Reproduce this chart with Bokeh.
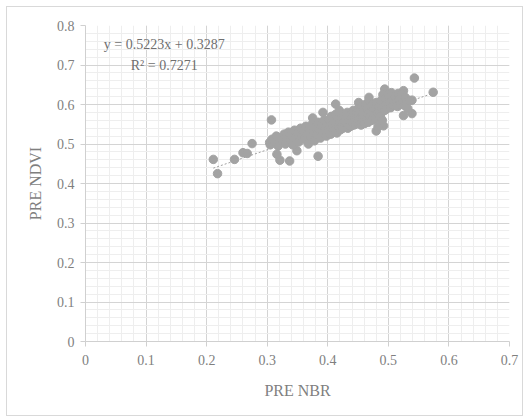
from bokeh.plotting import figure
from bokeh.models import Range1d, FixedTicker, Label, ColumnDataSource
from bokeh.embed import file_html
from bokeh.resources import INLINE

# Scatter data (PRE NBR vs PRE NDVI)
nbr = [
    0.211, 0.218, 0.246, 0.260, 0.267, 0.275, 0.307, 0.304, 0.316, 0.321, 0.337, 0.349,
    0.384, 0.375, 0.413, 0.392, 0.543, 0.574, 0.539, 0.525, 0.539, 0.525, 0.494, 0.480,
    0.492, 0.468, 0.451,
    0.305, 0.308, 0.312, 0.315, 0.318, 0.322, 0.325, 0.328, 0.330, 0.332, 0.335, 0.338,
    0.340, 0.342, 0.345, 0.347, 0.350, 0.352,
    0.355, 0.357, 0.360, 0.362, 0.364, 0.366, 0.368, 0.370, 0.372, 0.374, 0.376, 0.378,
    0.380, 0.382, 0.384, 0.386, 0.388, 0.390, 0.392, 0.394, 0.396, 0.398, 0.399,
    0.401, 0.402, 0.404, 0.405, 0.406, 0.408, 0.409, 0.410, 0.412, 0.413, 0.414, 0.415,
    0.416, 0.418, 0.419, 0.420, 0.421, 0.422, 0.424, 0.425, 0.426, 0.427, 0.428, 0.430,
    0.431, 0.432, 0.433, 0.434, 0.436, 0.437, 0.438, 0.440, 0.441, 0.442, 0.443, 0.444,
    0.445, 0.446, 0.447, 0.448, 0.449,
    0.450, 0.451, 0.452, 0.453, 0.454, 0.455, 0.456, 0.457, 0.458, 0.459, 0.460, 0.461,
    0.462, 0.463, 0.464, 0.465, 0.466, 0.467, 0.468, 0.469, 0.470, 0.471, 0.472, 0.473,
    0.474, 0.475, 0.476, 0.478, 0.479, 0.480, 0.482, 0.483, 0.484, 0.485, 0.487, 0.488,
    0.489, 0.490, 0.491, 0.492, 0.494, 0.495, 0.496, 0.498,
    0.500, 0.502, 0.504, 0.505, 0.507, 0.509, 0.511, 0.513, 0.515, 0.516, 0.518, 0.520,
    0.522, 0.524, 0.526, 0.528, 0.530, 0.532, 0.535,
]
ndvi = [
    0.461, 0.425, 0.461, 0.478, 0.476, 0.501, 0.561, 0.504, 0.474, 0.459, 0.457, 0.483,
    0.469, 0.566, 0.601, 0.580, 0.667, 0.631, 0.577, 0.572, 0.611, 0.635, 0.639, 0.533,
    0.546, 0.618, 0.605,
    0.498, 0.512, 0.505, 0.520, 0.495, 0.515, 0.508, 0.525, 0.500, 0.518, 0.530, 0.510,
    0.522, 0.498, 0.535, 0.515, 0.527, 0.505,
    0.540, 0.520, 0.532, 0.512, 0.545, 0.525, 0.500, 0.538, 0.518, 0.550, 0.530, 0.508,
    0.543, 0.525, 0.555, 0.535, 0.515, 0.548, 0.530, 0.560, 0.540, 0.520, 0.552,
    0.535, 0.562, 0.545, 0.525, 0.570, 0.550, 0.532, 0.558, 0.540, 0.575, 0.548, 0.528,
    0.562, 0.545, 0.585, 0.555, 0.536, 0.568, 0.550, 0.540, 0.575, 0.558, 0.545, 0.565,
    0.550, 0.580, 0.540, 0.560, 0.572, 0.552, 0.545, 0.568, 0.555, 0.585, 0.548, 0.575,
    0.560, 0.550, 0.578, 0.565, 0.555,
    0.590, 0.570, 0.558, 0.582, 0.565, 0.548, 0.595, 0.575, 0.560, 0.585, 0.570, 0.552,
    0.600, 0.580, 0.565, 0.590, 0.575, 0.555, 0.610, 0.585, 0.570, 0.595, 0.580, 0.560,
    0.600, 0.585, 0.572, 0.590, 0.565, 0.605, 0.578, 0.545, 0.595, 0.585, 0.570, 0.610,
    0.590, 0.560, 0.625, 0.600, 0.585, 0.615, 0.600, 0.590,
    0.625, 0.605, 0.592, 0.630, 0.612, 0.598, 0.620, 0.605, 0.595, 0.628, 0.612, 0.600,
    0.625, 0.608, 0.598, 0.618, 0.605, 0.590, 0.610,
]

# Trendline as printed on the chart
slope = 0.5223
intercept = 0.3287
equation_text = "y = 0.5223x + 0.3287"
r2_text = "R² = 0.7271"

x_ticks = [0, 0.1, 0.2, 0.3, 0.4, 0.5, 0.6, 0.7]
y_ticks = [0, 0.1, 0.2, 0.3, 0.4, 0.5, 0.6, 0.7, 0.8]

FONT = "Liberation Serif"
TXT = "#7f7f7f"

p = figure(width=517, height=410, output_backend="svg", toolbar_location=None,
           x_range=Range1d(0, 0.7), y_range=Range1d(0, 0.8),
           min_border_left=78, min_border_right=15, min_border_top=18, min_border_bottom=76)
p.margin = (6, 8, 3, 6)
p.styles = {"border": "1px solid #d9d9d9"}
p.outline_line_color = None
p.background_fill_color = "white"
p.border_fill_color = "white"

p.xaxis.ticker = FixedTicker(ticks=x_ticks, minor_ticks=[i / 50 for i in range(36)])
p.yaxis.ticker = FixedTicker(ticks=y_ticks, minor_ticks=[i / 50 for i in range(41)])

for ax in (p.xaxis[0], p.yaxis[0]):
    ax.axis_line_color = "#d0d0d0"
    ax.major_tick_line_color = "#d0d0d0"
    ax.major_tick_in = 0
    ax.major_tick_out = 5
    ax.minor_tick_line_color = None
    ax.major_label_text_font = FONT
    ax.major_label_text_font_size = "14px"
    ax.major_label_text_color = TXT
    ax.axis_label_text_font = FONT
    ax.axis_label_text_font_size = "16px"
    ax.axis_label_text_color = TXT
    ax.axis_label_text_font_style = "normal"

p.xaxis.axis_label = "PRE NBR"
p.yaxis.axis_label = "PRE NDVI"
p.xaxis.major_label_standoff = 8
p.yaxis.major_label_standoff = 6
p.xaxis.axis_label_standoff = 14
p.yaxis.axis_label_standoff = 10

p.grid.grid_line_color = "#d4d4d4"
p.grid.minor_grid_line_color = "#eeeeee"

src = ColumnDataSource(data=dict(x=nbr, y=ndvi))

# trendline over the data range
x0 = min(nbr)
x1 = max(nbr)
p.line([x0, x1], [slope * x0 + intercept, slope * x1 + intercept],
       line_color="#a0a0a0", line_width=1, line_dash="2 2")

p.scatter("x", "y", source=src, size=8.5, fill_color="#a3a3a3", line_color="#a3a3a3",
          fill_alpha=1.0)

p.add_layout(Label(x=0.13, y=0.752, text=equation_text, text_font=FONT, text_font_size="14px",
                   text_color="#6f6f6f", text_align="center", text_baseline="middle"))
p.add_layout(Label(x=0.13, y=0.700, text=r2_text, text_font=FONT, text_font_size="14px",
                   text_color="#6f6f6f", text_align="center", text_baseline="middle"))

open("out.html", "w").write(file_html(p, INLINE))
